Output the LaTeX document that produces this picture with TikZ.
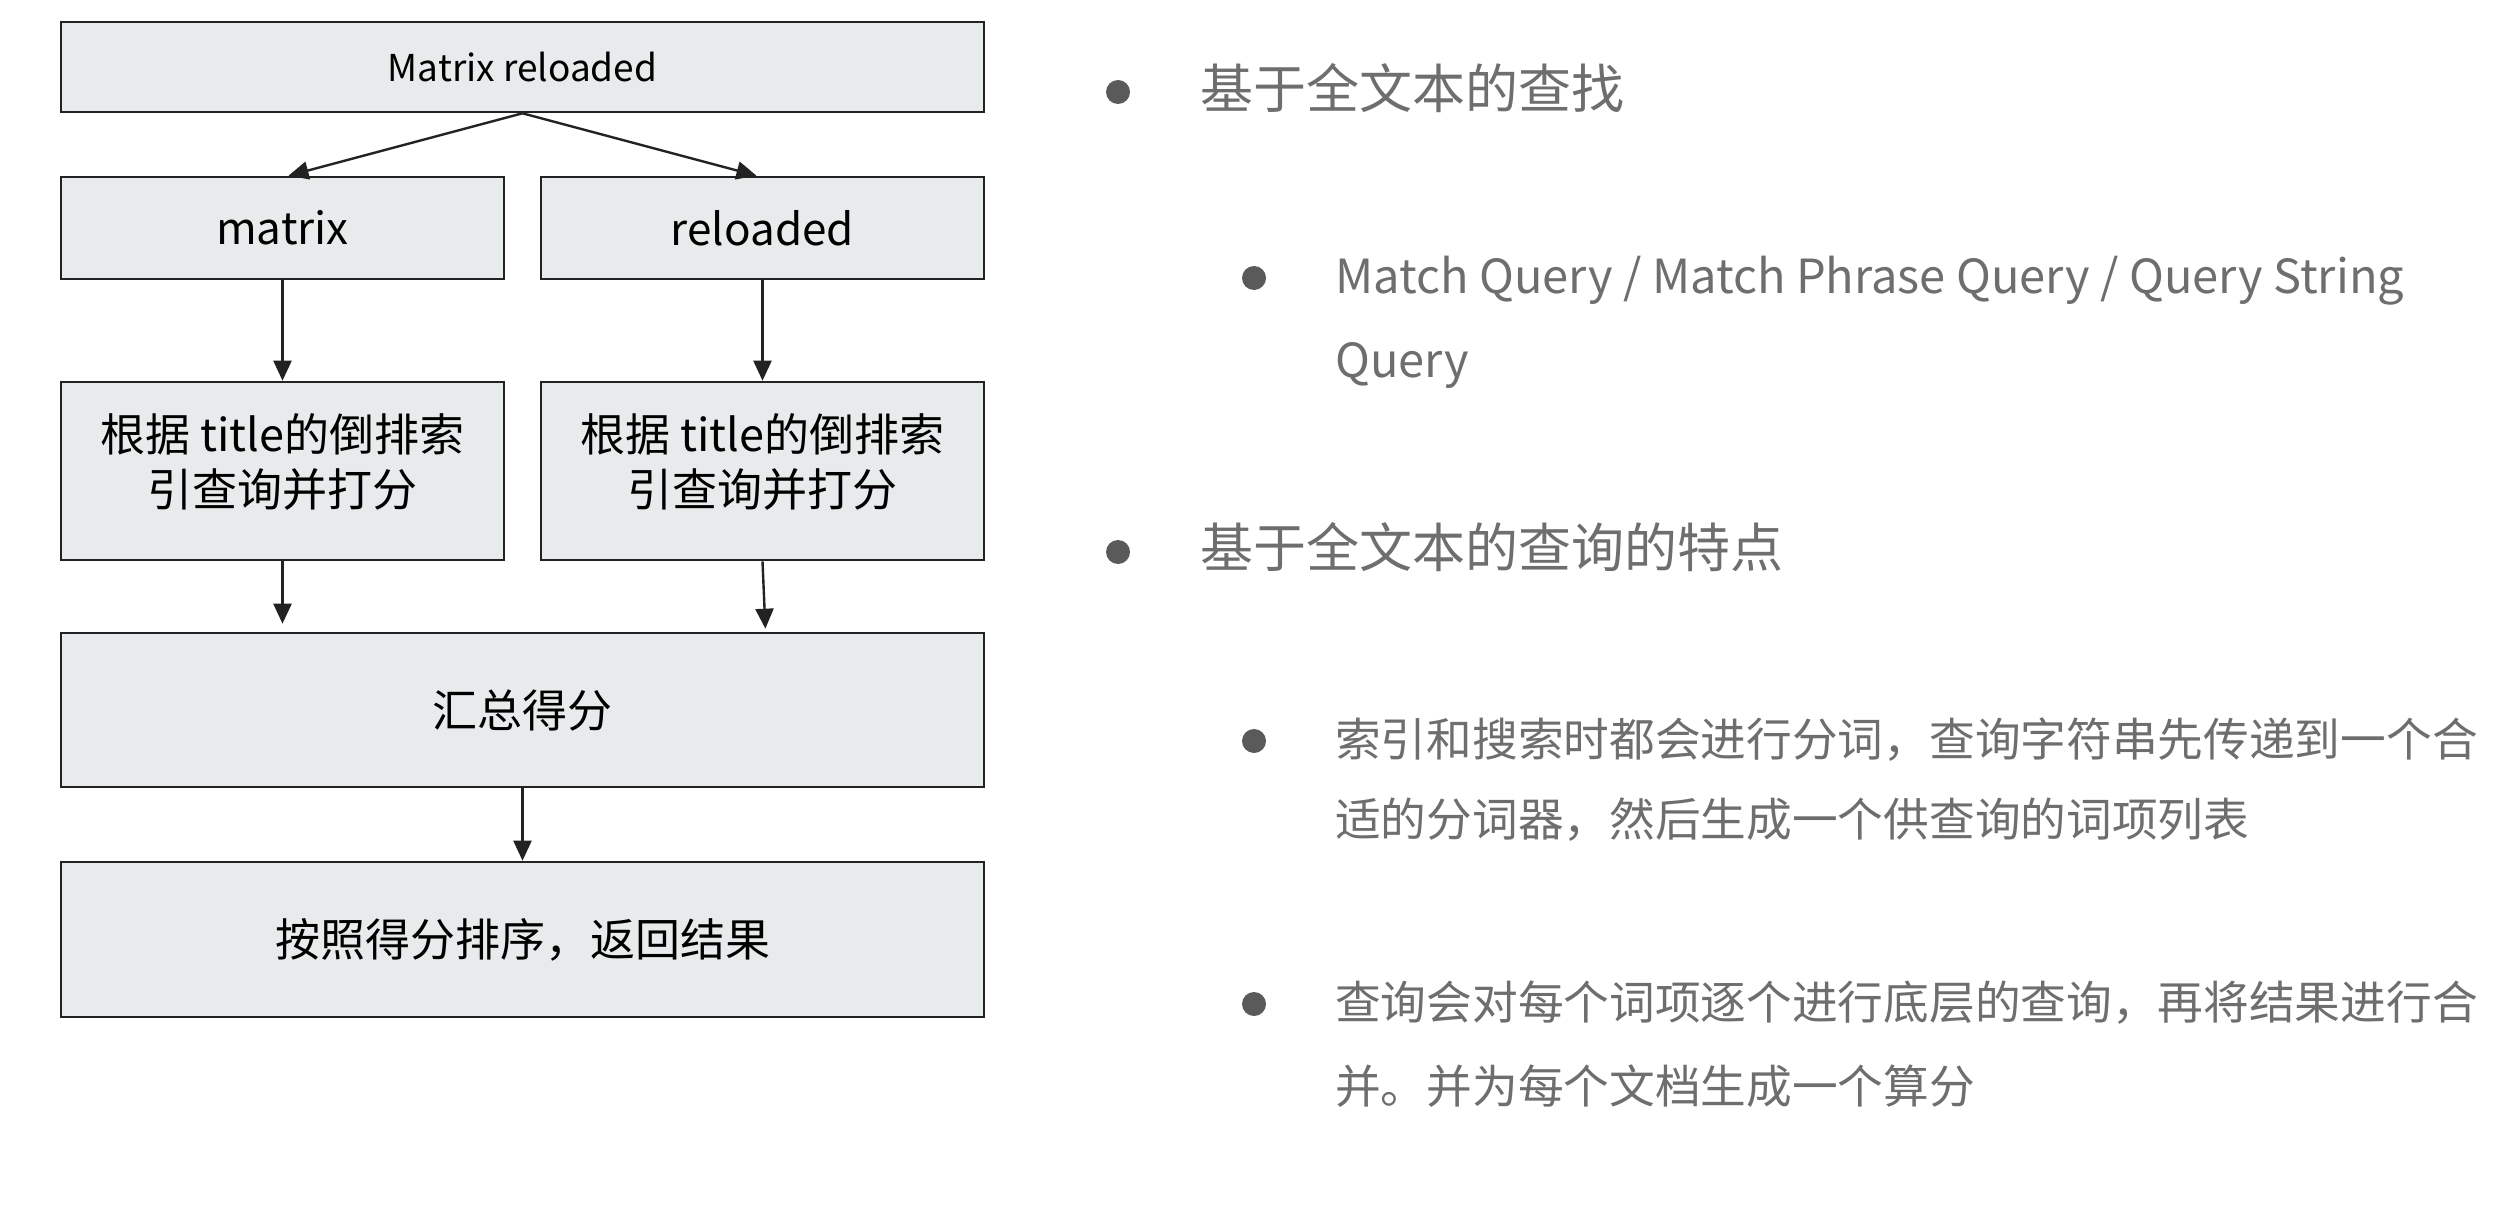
\documentclass[tikz,border=0pt]{standalone}
\usepackage{fontspec}
\setmainfont{Noto Sans CJK SC}
\usetikzlibrary{arrows.meta,calc}
\definecolor{boxfill}{HTML}{E8EBEC}
\definecolor{boxline}{HTML}{222222}
\definecolor{txtgray}{HTML}{6E6E6E}
\definecolor{dotgray}{HTML}{5A5A5A}
\begin{document}
\begin{tikzpicture}[x=1pt,y=-1pt,
  flowbox/.style={draw=boxline,line width=2.6pt,fill=boxfill,rectangle,inner sep=0pt,align=center,text=black},
  arr/.style={draw=boxline,line width=2.4pt,-{Triangle[length=20pt,width=18pt]}},
  headtxt/.style={anchor=west,inner sep=0pt,yshift=-15pt,text=txtgray,font=\fontsize{53}{60}\selectfont,text height=0.88em,text depth=0.12em},
  subtxt/.style={anchor=west,inner sep=0pt,yshift=-14pt,text=txtgray,font=\fontsize{45.7}{52}\selectfont,text height=0.88em,text depth=0.12em},
  dot/.style={circle,fill=dotgray,inner sep=0pt,minimum size=24pt}]
\useasboundingbox (0,0) rectangle (2518,1206);
\fill[white] (0,0) rectangle (2518,1206);
% flow chart
\node[flowbox,minimum width=923pt,minimum height=90pt,font=\fontsize{37}{44}\selectfont] (top) at (522.5,67) {Matrix reloaded};
\node[flowbox,minimum width=443pt,minimum height=102pt,font=\fontsize{44}{52}\selectfont] (mat) at (282.5,228) {matrix};
\node[flowbox,minimum width=443pt,minimum height=102pt,font=\fontsize{44}{52}\selectfont] (rel) at (762.5,228) {reloaded};
\node[flowbox,minimum width=443pt,minimum height=178pt,font=\fontsize{45}{55}\selectfont] (g1) at (282.5,471) {根据 title的倒排索\\引查询并打分\rule[-22pt]{0pt}{0pt}};
\node[flowbox,minimum width=443pt,minimum height=178pt,font=\fontsize{45}{55}\selectfont] (g2) at (762.5,471) {根据 title的倒排索\\引查询并打分\rule[-22pt]{0pt}{0pt}};
\node[flowbox,minimum width=923pt,minimum height=154pt,font=\fontsize{45}{55}\selectfont] (sum) at (522.5,710) {汇总得分};
\node[flowbox,minimum width=923pt,minimum height=155pt,font=\fontsize{45}{55}\selectfont] (sort) at (522.5,939.5) {按照得分排序，返回结果};
\draw[arr] (top.south) -- ([xshift=6pt]mat.north);
\draw[arr] (top.south) -- ([xshift=-6pt]rel.north);
\draw[arr] (mat.south) -- (g1.north);
\draw[arr] (rel.south) -- (g2.north);
\draw[arr] (g1.south) -- ([yshift=8pt]g1.south |- sum.north);
\draw[arr,shorten >=3pt] (g2.south) -- ([xshift=3pt]g2.south |- sum.north);
\draw[arr] (sum.south) -- (sort.north);
% right side list
\node[dot] (b1) at (1118,92) {};
\node[headtxt] (h1) at (1200,90) {基于全文本的查找};
\node[dot] (b2) at (1254,278) {};
\node[subtxt,font=\fontsize{47}{52}\selectfont] (s1a) at (1335,276) {Match Query / Match Phrase Query / Query String};
\node[subtxt,font=\fontsize{47}{52}\selectfont] (s1b) at (1335,360) {Query};
\node[dot] (b3) at (1118,552) {};
\node[headtxt] (h2) at (1200,549) {基于全文本的查询的特点};
\node[dot] (b4) at (1254,741) {};
\node[subtxt] (s2a) at (1335,739) {索引和搜索时都会进行分词，查询字符串先传递到一个合};
\node[subtxt] (s2b) at (1335,819) {适的分词器，然后生成一个供查询的词项列表};
\node[dot] (b5) at (1254,1004) {};
\node[subtxt] (s3a) at (1335,1002) {查询会对每个词项逐个进行底层的查询，再将结果进行合};
\node[subtxt] (s3b) at (1335,1086) {并。并为每个文档生成一个算分};
\end{tikzpicture}
\end{document}
